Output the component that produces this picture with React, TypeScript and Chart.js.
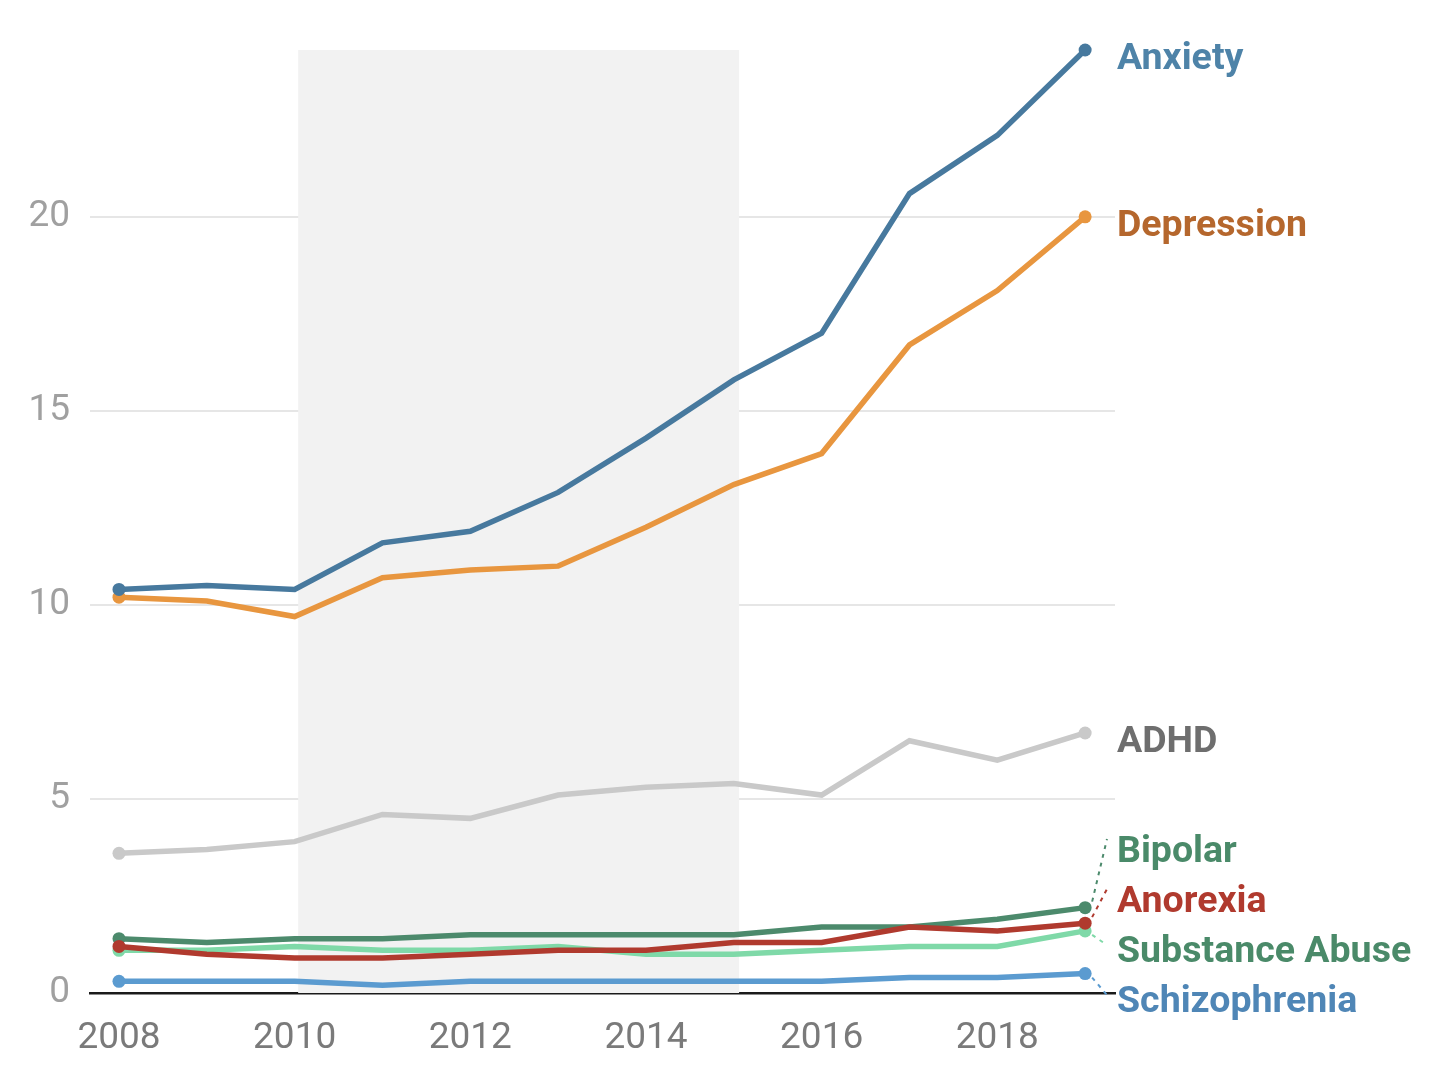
import React, { useEffect, useRef } from "react";
import { Chart, registerables } from "chart.js";

Chart.register(...registerables);

const years = [2008, 2009, 2010, 2011, 2012, 2013, 2014, 2015, 2016, 2017, 2018, 2019];
const anxiety = [10.4, 10.5, 10.4, 11.6, 11.9, 12.9, 14.3, 15.8, 17.0, 20.6, 22.1, 24.3];
const depression = [10.2, 10.1, 9.7, 10.7, 10.9, 11.0, 12.0, 13.1, 13.9, 16.7, 18.1, 20.0];
const adhd = [3.6, 3.7, 3.9, 4.6, 4.5, 5.1, 5.3, 5.4, 5.1, 6.5, 6.0, 6.7];
const anorexia = [1.2, 1.0, 0.9, 0.9, 1.0, 1.1, 1.1, 1.3, 1.3, 1.7, 1.6, 1.8];
const bipolar = [1.4, 1.3, 1.4, 1.4, 1.5, 1.5, 1.5, 1.5, 1.7, 1.7, 1.9, 2.2];
const substanceAbuse = [1.1, 1.1, 1.2, 1.1, 1.1, 1.2, 1.0, 1.0, 1.1, 1.2, 1.2, 1.6];
const schizophrenia = [0.3, 0.3, 0.3, 0.2, 0.3, 0.3, 0.3, 0.3, 0.3, 0.4, 0.4, 0.5];

const seriesNames = ["Anxiety", "Depression", "ADHD", "Anorexia", "Bipolar", "Substance Abuse", "Schizophrenia"];
const seriesValues = [anxiety, depression, adhd, anorexia, bipolar, substanceAbuse, schizophrenia];
const lineColors = ["#47799E", "#E8963F", "#C9C9C9", "#B03A2E", "#4C8A6C", "#7FD9A8", "#5B9BD0"];
const labelColors = ["#4E83A8", "#B5672D", "#6E6E6E", "#B03A2E", "#4A8A69", "#4A8A69", "#4F86B6"];

const xTickValues = [2008, 2010, 2012, 2014, 2016, 2018];
const yTickValues = [0, 5, 10, 15, 20];
const highlightRange = [2010.04, 2015.06];

const FONT = "Roboto, 'Noto Sans', sans-serif";

const bandPlugin = {
  id: "band",
  beforeDatasetsDraw(chart: any) {
    const { ctx, chartArea, scales } = chart;
    const x0 = scales.x.getPixelForValue(highlightRange[0]);
    const x1 = scales.x.getPixelForValue(highlightRange[1]);
    ctx.save();
    ctx.fillStyle = "#F2F2F2";
    ctx.fillRect(x0, chartArea.top, x1 - x0, chartArea.bottom - chartArea.top);
    ctx.restore();
  },
};

const labelPlugin = {
  id: "endLabels",
  afterDatasetsDraw(chart: any) {
    const { ctx, chartArea } = chart;
    const gap = 50;
    const off = 10;
    const items = seriesNames.map((name, i) => {
      const meta = chart.getDatasetMeta(i);
      const pt = meta.data[meta.data.length - 1];
      return { name, i, px: pt.x, py: pt.y, want: pt.y + off, pos: pt.y + off };
    });
    items.sort((a, b) => a.want - b.want);
    for (let k = 1; k < items.length; k++) {
      items[k].pos = Math.max(items[k].want, items[k - 1].pos + gap);
    }
    const maxY = chartArea.bottom + off;
    const last = items.length - 1;
    items[last].pos = Math.min(items[last].pos, maxY);
    for (let k = last - 1; k >= 0; k--) {
      items[k].pos = Math.min(items[k].pos, items[k + 1].pos - gap);
    }
    const textX = chartArea.right + 2;
    ctx.save();
    items.forEach((it) => {
      if (Math.abs(it.pos - it.want) > 4) {
        const down = it.pos > it.want;
        ctx.beginPath();
        ctx.setLineDash([4, 5]);
        ctx.lineWidth = 2;
        ctx.strokeStyle = lineColors[it.i];
        const sx = it.px + 7;
        const sy = it.py + (down ? 4 : -6);
        ctx.moveTo(sx, sy);
        ctx.lineTo(textX - 10, it.pos - (down ? 8 : 14));
        ctx.stroke();
      }
      ctx.setLineDash([]);
      ctx.font = `bold 37.5px ${FONT}`;
      ctx.fillStyle = labelColors[it.i];
      ctx.textAlign = "left";
      ctx.textBaseline = "middle";
      ctx.fillText(it.name, textX, it.pos);
    });
    ctx.restore();
  },
};

export default function App() {
  const ref = useRef<HTMLCanvasElement | null>(null);
  useEffect(() => {
    if (!ref.current) return;
    const n = years.length;
    const chart = new Chart(ref.current, {
      type: "line",
      data: {
        datasets: seriesValues.map((vals, i) => ({
          label: seriesNames[i],
          data: years.map((y, k) => ({ x: y, y: vals[k] })),
          borderColor: lineColors[i],
          backgroundColor: lineColors[i],
          borderWidth: 5.5,
          tension: 0,
          clip: false,
          pointRadius: (c: any) => (c.dataIndex === 0 || c.dataIndex === n - 1 ? 6.5 : 0),
          pointBorderWidth: 0,
          pointHoverRadius: 0,
          fill: false,
        })),
      },
      options: {
        animation: false,
        responsive: true,
        maintainAspectRatio: false,
        devicePixelRatio: 1,
        layout: { padding: { left: 0, top: 50, right: 337, bottom: 0 } },
        plugins: { legend: { display: false }, tooltip: { enabled: false } },
        events: [],
        scales: {
          x: {
            type: "linear",
            min: 2007.67,
            max: 2019.34,
            afterBuildTicks: (s: any) => {
              s.ticks = xTickValues.map((v) => ({ value: v }));
            },
            afterFit: (s: any) => {
              s.height = 97;
            },
            grid: { display: true, color: "transparent", drawTicks: false, drawOnChartArea: false },
            border: { display: true, color: "#1a1a1a", width: 2.5 },
            ticks: {
              color: "#7a7a7a",
              font: { family: FONT, size: 37 },
              padding: 24,
              callback: (v: any) => String(v),
              maxRotation: 0,
              autoSkip: false,
            },
          },
          y: {
            type: "linear",
            min: 0,
            max: 24.3,
            afterBuildTicks: (s: any) => {
              s.ticks = yTickValues.map((v) => ({ value: v }));
            },
            afterFit: (s: any) => {
              s.width = 90;
            },
            grid: {
              color: (c: any) => (c.tick && c.tick.value === 0 ? "transparent" : "#E6E6E6"),
              lineWidth: 2,
              drawTicks: false,
            },
            border: { display: false },
            ticks: {
              color: "#A0A0A0",
              font: { family: FONT, size: 37 },
              padding: 20,
              callback: (v: any) => String(v),
            },
          },
        },
      },
      plugins: [bandPlugin, labelPlugin],
    });
    return () => chart.destroy();
  }, []);

  return (
    <div style={{ position: "absolute", left: 0, top: 0, width: 1452, height: 1090, background: "#fff" }}>
      <canvas ref={ref} />
    </div>
  );
}
